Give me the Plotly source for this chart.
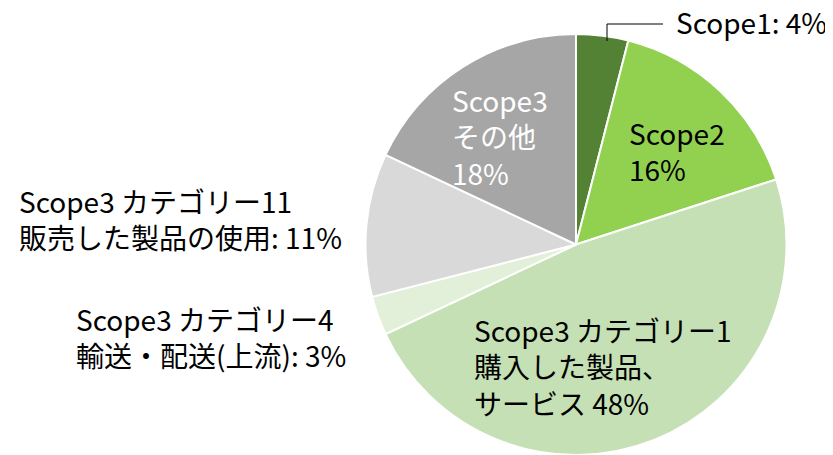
import plotly.graph_objects as go

categories = ["Scope1", "Scope2", "Scope3 カテゴリー1", "Scope3 カテゴリー4", "Scope3 カテゴリー11", "Scope3 その他"]
values = [4, 16, 48, 3, 11, 18]
colors = ["#548235", "#92D050", "#C5E0B4", "#E2F0D9", "#D9D9D9", "#A6A6A6"]
label_texts = [
    "Scope1: 4%",
    "Scope2<br>16%",
    "Scope3 カテゴリー1<br>購入した製品、<br>サービス 48%",
    "Scope3 カテゴリー4<br>輸送・配送(上流): 3%",
    "Scope3 カテゴリー11<br>販売した製品の使用: 11%",
    "Scope3<br>その他<br>18%",
]
label_colors = ["#000000", "#000000", "#000000", "#000000", "#000000", "#FFFFFF"]
# label anchor positions in screen pixels (left x, middle y)
label_pos = [(674, 22), (627, 151), (472, 366), (74, 337), (17, 219), (450, 136)]

OFF = 8  # page body margin
W, H = 833 - OFF, 455 - OFF
cx, cy, r = 576 - OFF, 245 - OFF, 211


def px(x):
    return (x - OFF) / W


def py(y):
    return 1 - (y - OFF) / H


fig = go.Figure(go.Pie(
    labels=categories,
    values=values,
    sort=False,
    direction="clockwise",
    rotation=0,
    marker=dict(colors=colors, line=dict(color="#FFFFFF", width=2)),
    textinfo="none",
    hoverinfo="label+percent",
    showlegend=False,
    domain=dict(x=[(cx - r) / W, (cx + r) / W], y=[max(0, (H - cy - r) / H), (H - cy + r) / H]),
))

font_family = "Noto Sans CJK JP, Noto Sans, sans-serif"
for txt, col, (lx, ly) in zip(label_texts, label_colors, label_pos):
    fig.add_annotation(
        text=txt, xref="paper", yref="paper",
        x=px(lx), y=py(ly), xanchor="left", yanchor="middle",
        align="left", showarrow=False,
        font=dict(family=font_family, size=28, color=col),
    )

# leader line for Scope1
fig.add_shape(
    type="path", xref="paper", yref="paper",
    path=f"M {px(663)},{py(24)} L {px(607)},{py(24)} L {px(607)},{py(41)}",
    line=dict(color="#000000", width=1),
)

fig.update_layout(
    width=W, height=H,
    margin=dict(l=0, r=0, t=0, b=0),
    paper_bgcolor="#FFFFFF",
    plot_bgcolor="#FFFFFF",
)

fig.write_html("out.html")
